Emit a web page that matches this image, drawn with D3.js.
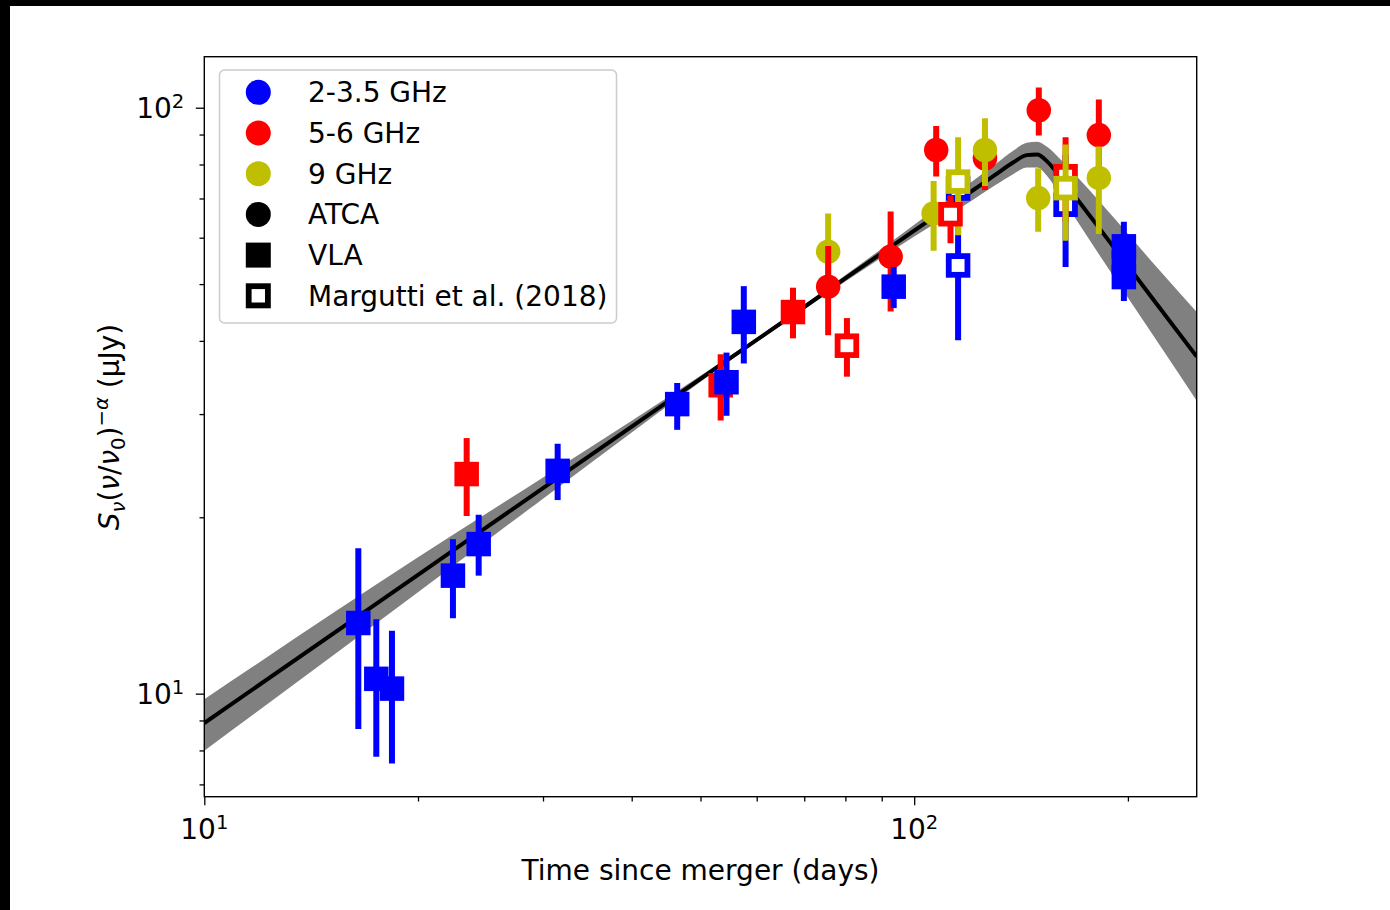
<!DOCTYPE html>
<html>
<head>
<meta charset="utf-8">
<script src="https://cdn.jsdelivr.net/npm/d3@7"></script>
<style>
  html, body { margin: 0; padding: 0; background: #fff; }
  svg { display: block; }
  text { font-family: "DejaVu Sans", sans-serif; fill: #000; }
</style>
</head>
<body>
<svg id="chart" width="1390" height="910"></svg>
<script>
// ---- Axis extents and ticks ----
const xDomain = [10, 250];
const yDomain = [6.67, 122.2];
const xMajorTicks = [10, 100];
const xMinorTicks = [20, 30, 40, 50, 60, 70, 80, 90, 200];
const yMajorTicks = [10, 100];
const yMinorTicks = [7, 8, 9, 20, 30, 40, 50, 60, 70, 80, 90];
const xTickExponents = ["1", "2"];
const yTickExponents = ["1", "2"];

// ---- Smoothly broken power-law fit and its uncertainty band ----
const modelDays = [10, 20, 30, 40, 55, 70, 100, 120, 130, 138, 144, 149, 154, 160, 170, 190, 220, 250];
const modelFlux = [8.91, 15.95, 22.43, 28.56, 37.33, 45.7, 61.7, 71.8, 76.8, 80.7, 83.0, 83.2, 80.9, 76.6, 69.6, 58.3, 46.1, 37.6];
const bandLow   = [7.99, 14.89, 21.52, 27.91, 36.99, 45.28, 60.29, 69.2, 73.7, 77.1, 79.1, 79.1, 76.4, 71.5, 63.8, 52.0, 39.9, 31.6];
const bandHigh  = [9.78, 17.09, 23.38, 29.22, 37.68, 46.12, 63.14, 74.5, 80.0, 84.5, 87.1, 87.5, 85.7, 82.1, 76.0, 65.4, 53.3, 44.8];

// ---- Observations (listed in drawing order) ----
// band: 0 = 2-3.5 GHz, 1 = 5-6 GHz, 2 = 9 GHz
// source: "ATCA", "VLA", "M18" (Margutti et al. 2018)
const obsDays    = [16.48, 17.47, 18.38, 22.40, 24.35, 31.46, 46.36, 23.42, 53.38, 54.4, 57.54, 67.49,
                    75.65, 75.65, 80.4, 92.64, 93.57, 106.5, 107.4,
                    115.3, 115.3, 115.3, 112.5, 125.8, 125.8, 149.8, 149.5,
                    163.4, 163.4, 163.4, 182.0, 182.0, 197.4, 197.4, 197.4];
const obsFlux    = [13.2, 10.6, 10.2, 15.9, 18.0, 24.0, 31.2, 23.7, 33.6, 34.0, 43.1, 44.8,
                    56.8, 49.5, 39.25, 55.7, 49.5, 66.0, 84.7,
                    72.8, 53.8, 74.8, 65.8, 82.0, 84.7, 99.0, 70.1,
                    68.3, 76.4, 72.9, 89.8, 75.9, 58.0, 54.5, 51.4];
const obsErrLow  = [4.5, 2.8, 2.6, 2.45, 2.1, 2.6, 3.0, 3.6, 4.35, 4.2, 6.5, 4.4,
                    9.2, 8.6, 4.5, 10.8, 4.0, 9.0, 8.4,
                    5.0, 13.7, 14.2, 7.1, 9.6, 11.2, 9.3, 8.7,
                    14.8, 12.6, 13.6, 13.5, 15.0, 5.9, 4.5, 4.6];
const obsErrHigh = [4.5, 2.8, 2.6, 2.45, 2.2, 2.7, 2.7, 3.6, 4.35, 4.2, 6.5, 4.5,
                    9.2, 8.6, 4.5, 10.8, 4.0, 9.0, 8.4,
                    5.0, 13.7, 14.2, 5.0, 9.6, 11.2, 9.3, 8.7,
                    14.8, 12.6, 13.6, 13.5, 10.0, 5.9, 4.5, 4.6];
const obsBand    = [0, 0, 0, 0, 0, 0, 0, 1, 1, 0, 0, 1,
                    2, 1, 1, 1, 0, 2, 1,
                    0, 0, 2, 1, 1, 2, 1, 2,
                    0, 1, 2, 1, 2, 0, 0, 0];
const obsSource  = ["VLA", "VLA", "VLA", "VLA", "VLA", "VLA", "VLA", "VLA", "VLA", "VLA", "VLA", "VLA",
                    "ATCA", "ATCA", "M18", "ATCA", "VLA", "ATCA", "ATCA",
                    "M18", "M18", "M18", "M18", "ATCA", "ATCA", "ATCA", "ATCA",
                    "M18", "M18", "M18", "ATCA", "ATCA", "VLA", "VLA", "VLA"];

// ---- Legend ----
const bandNames  = ["2-3.5 GHz", "5-6 GHz", "9 GHz"];
const bandColors = ["#0000ff", "#ff0000", "#bfbf00"];
const legendLabels  = ["2-3.5 GHz", "5-6 GHz", "9 GHz", "ATCA", "VLA", "Margutti et al. (2018)"];
const legendSymbols = ["ATCA", "ATCA", "ATCA", "ATCA", "VLA", "M18"];
const legendColors  = ["#0000ff", "#ff0000", "#bfbf00", "#000000", "#000000", "#000000"];

// ---- Layout ----
const W = 1390, H = 910;
const plot = { left: 204.3, top: 56.7, right: 1196.7, bottom: 796.7 };
const FONT = 28;
const MARK = 24.5;      // marker size (square side / circle diameter)
const BAR_W = 6;        // error bar line width

const svg = d3.select("#chart");
svg.append("rect").attr("width", W).attr("height", H).attr("fill", "#fff");

const x = d3.scaleLog().domain(xDomain).range([plot.left, plot.right]);
const y = d3.scaleLog().domain(yDomain).range([plot.bottom, plot.top]);

svg.append("defs").append("clipPath").attr("id", "plotClip")
  .append("rect")
  .attr("x", plot.left).attr("y", plot.top)
  .attr("width", plot.right - plot.left).attr("height", plot.bottom - plot.top);

const area = svg.append("g").attr("clip-path", "url(#plotClip)");

// Model uncertainty band and best fit
const idx = d3.range(modelDays.length);
area.append("path")
  .datum(idx)
  .attr("fill", "#808080")
  .attr("d", d3.area()
    .x(i => x(modelDays[i]))
    .y0(i => y(bandLow[i]))
    .y1(i => y(bandHigh[i]))
    .curve(d3.curveMonotoneX));

area.append("path")
  .datum(idx)
  .attr("fill", "none")
  .attr("stroke", "#000")
  .attr("stroke-width", 4)
  .attr("stroke-linejoin", "round")
  .attr("d", d3.line()
    .x(i => x(modelDays[i]))
    .y(i => y(modelFlux[i]))
    .curve(d3.curveMonotoneX));

// Marker drawing helper
function drawMarker(g, kind, cx, cy, color, size) {
  if (kind === "ATCA") {
    g.append("circle").attr("cx", cx).attr("cy", cy).attr("r", size / 2).attr("fill", color);
  } else if (kind === "VLA") {
    g.append("rect").attr("x", cx - size / 2).attr("y", cy - size / 2)
      .attr("width", size).attr("height", size).attr("fill", color);
  } else {
    const sw = 5.8;
    g.append("rect").attr("x", cx - (size - sw) / 2).attr("y", cy - (size - sw) / 2)
      .attr("width", size - sw).attr("height", size - sw)
      .attr("fill", "#fff").attr("stroke", color).attr("stroke-width", sw);
  }
}

// Observations with error bars
const obs = area.append("g");
d3.range(obsDays.length).forEach(i => {
  const g = obs.append("g");
  const color = bandColors[obsBand[i]];
  const cx = x(obsDays[i]);
  g.append("line")
    .attr("x1", cx).attr("x2", cx)
    .attr("y1", y(obsFlux[i] - obsErrLow[i]))
    .attr("y2", y(obsFlux[i] + obsErrHigh[i]))
    .attr("stroke", color).attr("stroke-width", BAR_W);
  drawMarker(g, obsSource[i], cx, y(obsFlux[i]), color, MARK);
});

// Axes frame
svg.append("rect")
  .attr("x", plot.left).attr("y", plot.top)
  .attr("width", plot.right - plot.left).attr("height", plot.bottom - plot.top)
  .attr("fill", "none").attr("stroke", "#000").attr("stroke-width", 1.4);

function styleAxis(g) {
  g.select(".domain").remove();
  g.selectAll(".tick line").attr("stroke", "#000").attr("stroke-width", 1.3);
  g.selectAll(".tick text").remove();
}

svg.append("g").attr("transform", `translate(0,${plot.bottom})`)
  .call(d3.axisBottom(x).tickValues(xMajorTicks).tickSize(8.5).tickFormat(() => ""))
  .call(styleAxis);
svg.append("g").attr("transform", `translate(0,${plot.bottom})`)
  .call(d3.axisBottom(x).tickValues(xMinorTicks).tickSize(4.8).tickFormat(() => ""))
  .call(styleAxis);
svg.append("g").attr("transform", `translate(${plot.left},0)`)
  .call(d3.axisLeft(y).tickValues(yMajorTicks).tickSize(8.5).tickFormat(() => ""))
  .call(styleAxis);
svg.append("g").attr("transform", `translate(${plot.left},0)`)
  .call(d3.axisLeft(y).tickValues(yMinorTicks).tickSize(4.8).tickFormat(() => ""))
  .call(styleAxis);

// Power-of-ten tick labels
function powerLabel(sel, exp) {
  sel.append("tspan").text("10");
  sel.append("tspan").attr("dy", -10).attr("font-size", FONT * 0.7).text(exp);
}
xMajorTicks.forEach((v, k) => {
  const t = svg.append("text")
    .attr("x", x(v)).attr("y", 839)
    .attr("text-anchor", "middle").attr("font-size", FONT);
  powerLabel(t, xTickExponents[k]);
});
yMajorTicks.forEach((v, k) => {
  const t = svg.append("text")
    .attr("x", plot.left - 20).attr("y", y(v) + 10)
    .attr("text-anchor", "end").attr("font-size", FONT);
  powerLabel(t, yTickExponents[k]);
});

// Axis titles
svg.append("text")
  .attr("x", (plot.left + plot.right) / 2).attr("y", 880)
  .attr("text-anchor", "middle").attr("font-size", FONT)
  .text("Time since merger (days)");

const yl = svg.append("text")
  .attr("transform", "translate(119,427) rotate(-90)")
  .attr("text-anchor", "middle").attr("font-size", FONT);
const small = FONT * 0.7;
yl.append("tspan").attr("font-style", "italic").text("S");
yl.append("tspan").attr("font-style", "italic").attr("font-size", small).attr("dy", 6).text("ν");
yl.append("tspan").attr("dy", -6).text("(");
yl.append("tspan").attr("font-style", "italic").text("ν");
yl.append("tspan").text("/");
yl.append("tspan").attr("font-style", "italic").text("ν");
yl.append("tspan").attr("font-size", small).attr("dy", 6).text("0");
yl.append("tspan").attr("dy", -6).text(")");
yl.append("tspan").attr("font-size", small).attr("dy", -11).text("−");
yl.append("tspan").attr("font-size", small).attr("font-style", "italic").text("α");
yl.append("tspan").attr("dy", 11).text(" (μJy)");

// Legend
const lg = svg.append("g");
lg.append("rect")
  .attr("x", 219.5).attr("y", 70).attr("width", 397).attr("height", 253)
  .attr("rx", 5).attr("fill", "#fff").attr("fill-opacity", 0.8)
  .attr("stroke", "#cccccc").attr("stroke-width", 1.5);
legendLabels.forEach((label, k) => {
  const cy = 92.3 + k * 40.7;
  drawMarker(lg, legendSymbols[k], 258.3, cy, legendColors[k], 25);
  lg.append("text").attr("x", 308).attr("y", cy + 10)
    .attr("font-size", FONT).text(label);
});

// Dark edge strips along the top and left of the canvas
svg.append("rect").attr("x", 0).attr("y", 0).attr("width", W).attr("height", 6).attr("fill", "#000");
svg.append("rect").attr("x", 0).attr("y", 0).attr("width", 10).attr("height", H).attr("fill", "#000");
</script>
</body>
</html>
